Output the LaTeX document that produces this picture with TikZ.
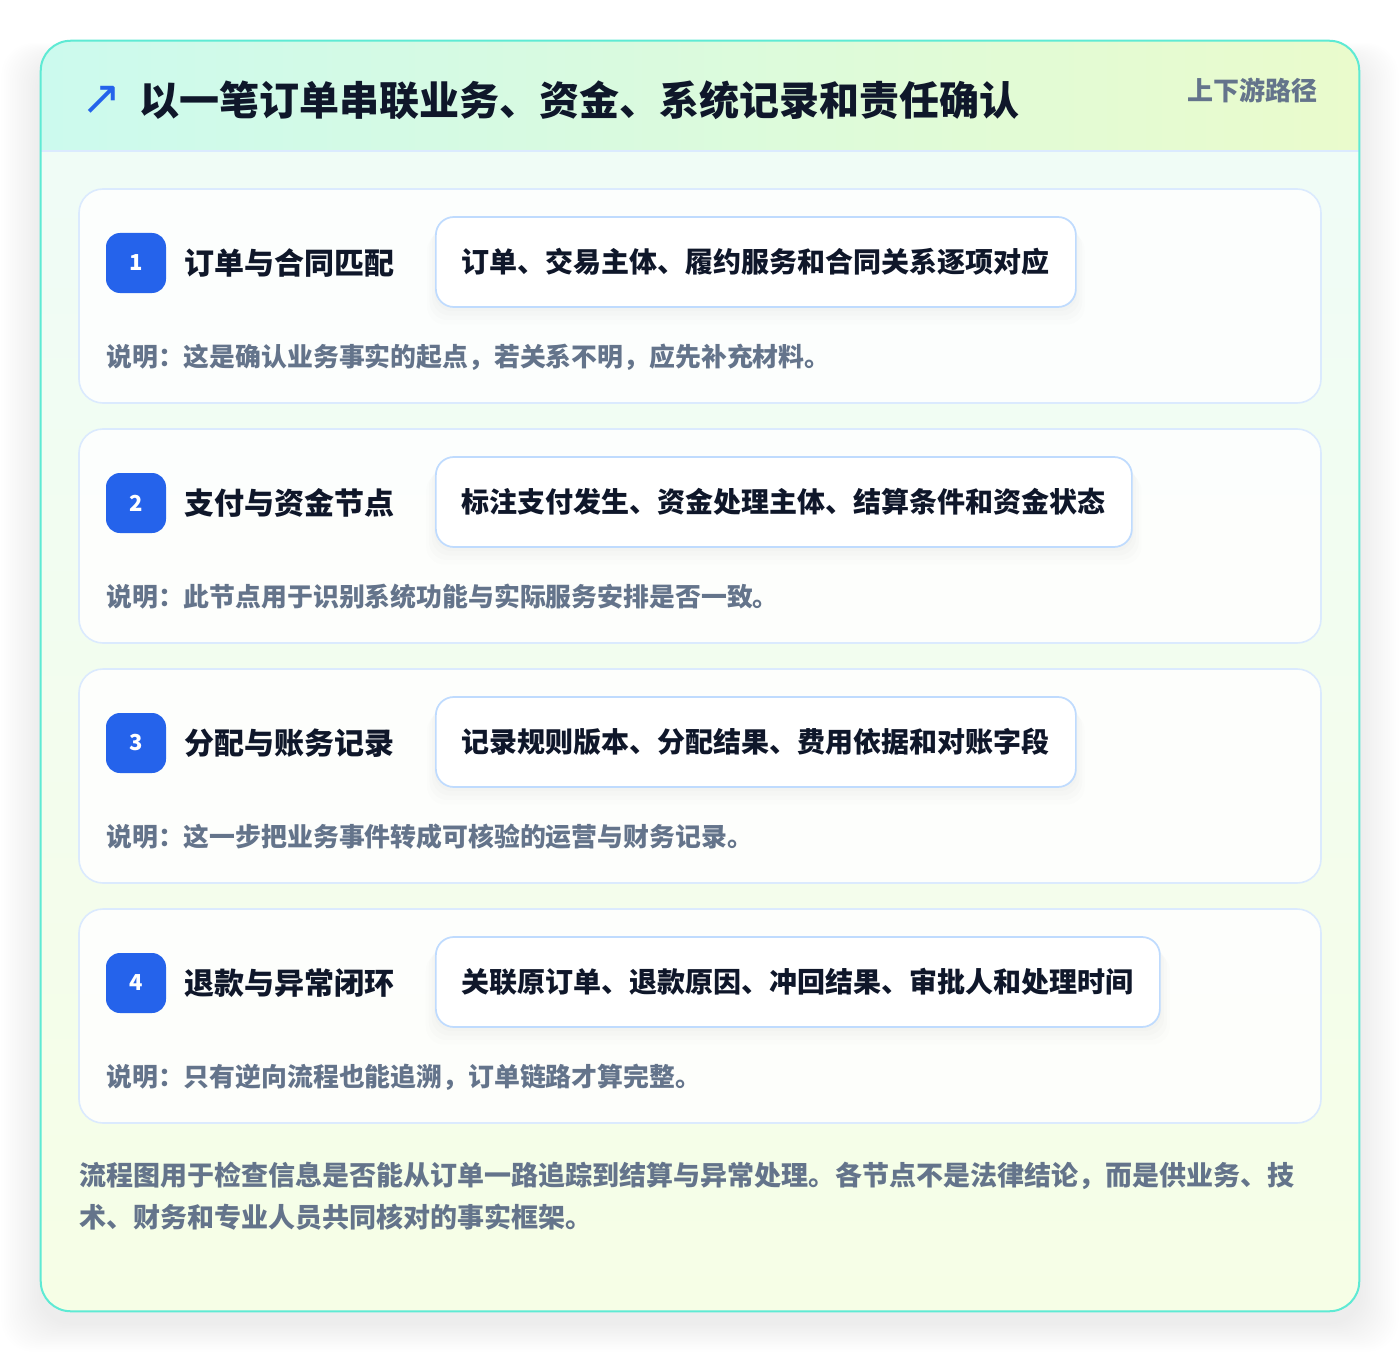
\documentclass[tikz,border=0pt]{standalone}
\usepackage{fontspec}
\setmainfont{Noto Sans CJK SC}
\newfontfamily\symfont{DejaVu Sans}
\usetikzlibrary{shadows}
\definecolor{cardborder}{HTML}{5EEAD4}
\definecolor{bgtop}{HTML}{EFFCF8}
\definecolor{bgbot}{HTML}{F6FEE6}
\definecolor{headl}{HTML}{CCFAEE}
\definecolor{headr}{HTML}{EAFBCC}
\definecolor{headline}{HTML}{DBEAFE}
\definecolor{titlec}{HTML}{0F172A}
\definecolor{slate}{HTML}{64748B}
\definecolor{accent}{HTML}{2563EB}
\definecolor{stepborder}{HTML}{DBEAFE}
\definecolor{pillborder}{HTML}{BFDBFE}
\tikzset{
  stepcard/.style={draw=stepborder, line width=1.2pt, fill=white, fill opacity=0.85,
    rounded corners=18pt, minimum width=931.5pt, minimum height=160.5pt, inner sep=0pt},
  badge/.style={fill=accent, rounded corners=10.5pt, minimum width=45pt, minimum height=45pt,
    inner sep=0pt, text=white, font=\bfseries\fontsize{16.5}{20}\selectfont},
  steptitle/.style={anchor=west, inner sep=0pt, text=titlec, font=\bfseries\fontsize{22.5}{27}\selectfont},
  pill/.style={anchor=west, draw=pillborder, line width=1.3pt, fill=white, rounded corners=13.5pt,
    minimum height=67.5pt, inner xsep=19.5pt, text=titlec, font=\bfseries\fontsize{21}{25}\selectfont,
    general shadow={fill=black, opacity=0.010, shadow yshift=-3pt, shadow scale=1.005},
    general shadow={fill=black, opacity=0.010, shadow yshift=-6pt, shadow scale=1.012},
    general shadow={fill=black, opacity=0.010, shadow yshift=-9pt, shadow scale=1.02},
    general shadow={fill=black, opacity=0.008, shadow yshift=-12pt, shadow scale=1.028}},
  desc/.style={anchor=west, inner sep=0pt, text=slate, font=\bfseries\fontsize{19.4}{23}\selectfont},
}
\begin{document}
\begin{tikzpicture}[x=0.75pt,y=-0.75pt]
\useasboundingbox (0,0) rectangle (1400,1352);
\fill[white] (0,0) rectangle (1400,1352);
% soft shadow of the main card
\foreach \i in {1,...,18}{
  \fill[black, opacity=0.0055, rounded corners=24pt]
    ({41-\i*2.2},{41+20-\i*1.0}) rectangle ({1359+\i*2.2},{1311+12+\i*1.6});
}
% main card
\node[minimum width=988.5pt, minimum height=952.5pt, inner sep=0pt, rounded corners=22.5pt,
  top color=bgtop, bottom color=bgbot] (main) at (700,676) {};
\begin{scope}
  \clip[rounded corners=22.5pt] (main.north west) rectangle (main.south east);
  \shade[left color=headl, right color=headr] (main.north west) rectangle (1359,151);
\end{scope}
\coordinate (hl) at (41,151);
\coordinate (hr) at (1359,151);
\draw[headline, line width=1.2pt] (hl) -- (hr);
\draw[cardborder, line width=1.5pt, rounded corners=22.5pt] (main.north west) rectangle (main.south east);
% header
\node[text=accent, inner sep=0pt, font=\symfont\fontsize{36}{40}\selectfont] (icon) at (102,100) {↗};
\node[anchor=west, inner sep=0pt, text=titlec, font=\bfseries\fontsize{30}{36}\selectfont] (title) at (139,100)
  {以一笔订单串联业务、资金、系统记录和责任确认};
\node[anchor=east, inner sep=0pt, text=slate, font=\bfseries\fontsize{19.5}{24}\selectfont] (tag) at (1318,90) {上下游路径};
% steps
\foreach \k/\top/\t/\p/\d in {
  1/189/订单与合同匹配/订单、交易主体、履约服务和合同关系逐项对应/说明：这是确认业务事实的起点，若关系不明，应先补充材料。,
  2/429/支付与资金节点/标注支付发生、资金处理主体、结算条件和资金状态/说明：此节点用于识别系统功能与实际服务安排是否一致。,
  3/669/分配与账务记录/记录规则版本、分配结果、费用依据和对账字段/说明：这一步把业务事件转成可核验的运营与财务记录。,
  4/909/退款与异常闭环/关联原订单、退款原因、冲回结果、审批人和处理时间/说明：只有逆向流程也能追溯，订单链路才算完整。}{
  \node[stepcard] (card\k) at (700,{\top+107}) {};
  \node[badge] (badge\k) at (136,{\top+74}) {\k};
  \node[steptitle] (stitle\k) at (184,{\top+74}) {\t};
  \node[pill] (pill\k) at (435,{\top+73}) {\p};
  \node[desc] (desc\k) at (106,{\top+168}) {\d};
}
% footer
\node[anchor=west, inner sep=0pt, align=left, text=slate, font=\bfseries\fontsize{20.25}{31.5}\selectfont] (foot) at (79,1196)
  {流程图用于检查信息是否能从订单一路追踪到结算与异常处理。各节点不是法律结论，而是供业务、技\\术、财务和专业人员共同核对的事实框架。};
\end{tikzpicture}
\end{document}
